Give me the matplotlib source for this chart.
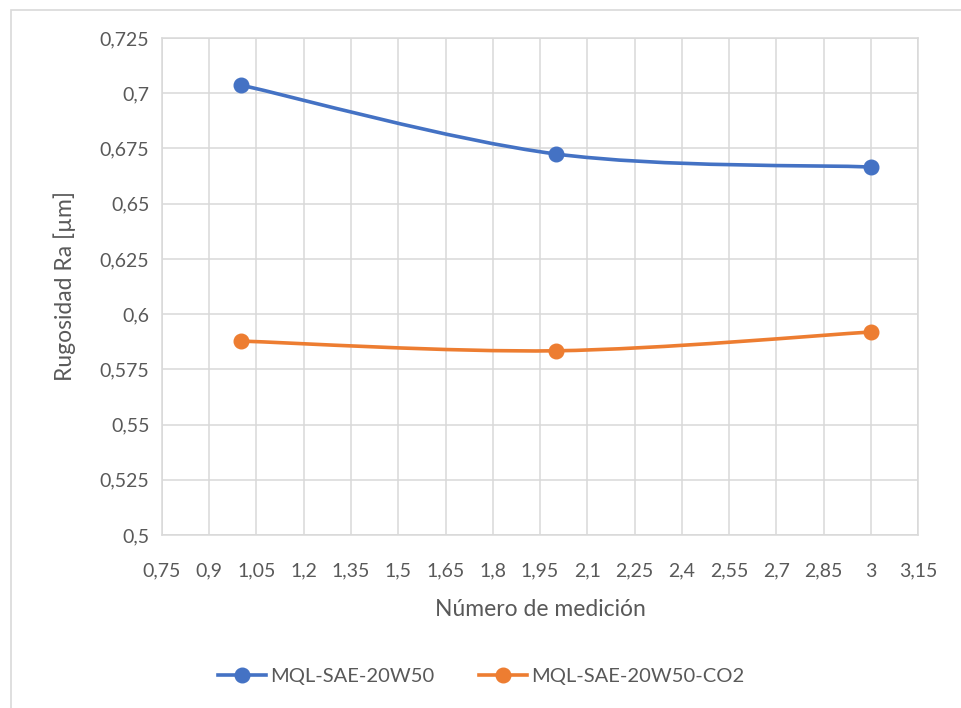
import matplotlib.pyplot as plt
import matplotlib.ticker as mticker
from matplotlib.path import Path
from matplotlib.patches import PathPatch, Rectangle
from matplotlib.lines import Line2D
import numpy as np

plt.rcParams['font.family'] = ['Lato', 'DejaVu Sans']

# Data
mediciones = [1, 2, 3]
ra_sae = [0.7037, 0.6725, 0.6666]
ra_sae_co2 = [0.5878, 0.5834, 0.5919]
series_names = ["MQL-SAE-20W50", "MQL-SAE-20W50-CO2"]
series_colors = ["#4472c4", "#ed7d31"]

grey_text = "#595959"
grid_col = "#d9d9d9"


# Excel-style smoothed line: cubic Bezier through the points
def smooth_path(xs, ys):
    pts = np.column_stack([xs, ys]).astype(float)
    verts = [pts[0]]
    codes = [Path.MOVETO]
    n = len(pts)
    for i in range(n - 1):
        p0 = pts[i - 1] if i > 0 else pts[i]
        p1 = pts[i]
        p2 = pts[i + 1]
        p3 = pts[i + 2] if i + 2 < n else pts[i + 1]
        c1 = p1 + (p2 - p0) / 6.0
        c2 = p2 - (p3 - p1) / 6.0
        verts += [c1, c2, p2]
        codes += [Path.CURVE4] * 3
    return Path(verts, codes)


fig = plt.figure(figsize=(9.62, 7.08), dpi=100)
ax = fig.add_axes([162 / 962, 1 - 535 / 708, (918 - 162) / 962, (535 - 38) / 708])

for ys, col in zip([ra_sae, ra_sae_co2], series_colors):
    patch = PathPatch(smooth_path(mediciones, ys), facecolor="none", edgecolor=col,
                      lw=2.6, capstyle="round", zorder=3)
    ax.add_patch(patch)
    ax.plot(mediciones, ys, ls="none", marker="o", ms=10.5, color=col, zorder=4)

ax.set_xlim(0.75, 3.15)
ax.set_ylim(0.5, 0.725)
ax.xaxis.set_major_locator(mticker.MultipleLocator(0.15))
ax.yaxis.set_major_locator(mticker.MultipleLocator(0.025))


def comma_fmt(v, pos):
    s = f"{v:.3f}".rstrip("0").rstrip(".")
    return s.replace(".", ",")


ax.xaxis.set_major_formatter(mticker.FuncFormatter(comma_fmt))
ax.yaxis.set_major_formatter(mticker.FuncFormatter(comma_fmt))

ax.grid(True, color=grid_col, lw=1.1)
ax.set_axisbelow(True)
for sp in ax.spines.values():
    sp.set_color(grid_col)
    sp.set_linewidth(1.1)
ax.tick_params(length=0, labelsize=14, colors=grey_text, pad=9)
ax.tick_params(axis="x", pad=20)

ax.set_xlabel("Número de medición", fontsize=16.5, color=grey_text, labelpad=14)
ax.set_ylabel("Rugosidad Ra [µm]", fontsize=16.5, color=grey_text, labelpad=17)

handles = [Line2D([], [], color=c, lw=2.6, marker="o", ms=10.5) for c in series_colors]
fig.legend(handles, series_names, loc="center", bbox_to_anchor=(0.5, 1 - 676 / 708),
           ncol=2, frameon=False, fontsize=14.5, labelcolor=grey_text,
           handlelength=2.4, columnspacing=2.2, handletextpad=0.2)

# chart area border (only the top and left edges are visible in the image)
fig.patches.append(Rectangle((11 / 962, -0.1), 1.2, 1 - 10 / 708 + 0.1,
                             transform=fig.transFigure, fill=False,
                             edgecolor=grid_col, lw=1.2))

fig.savefig("out.png", dpi=100)
